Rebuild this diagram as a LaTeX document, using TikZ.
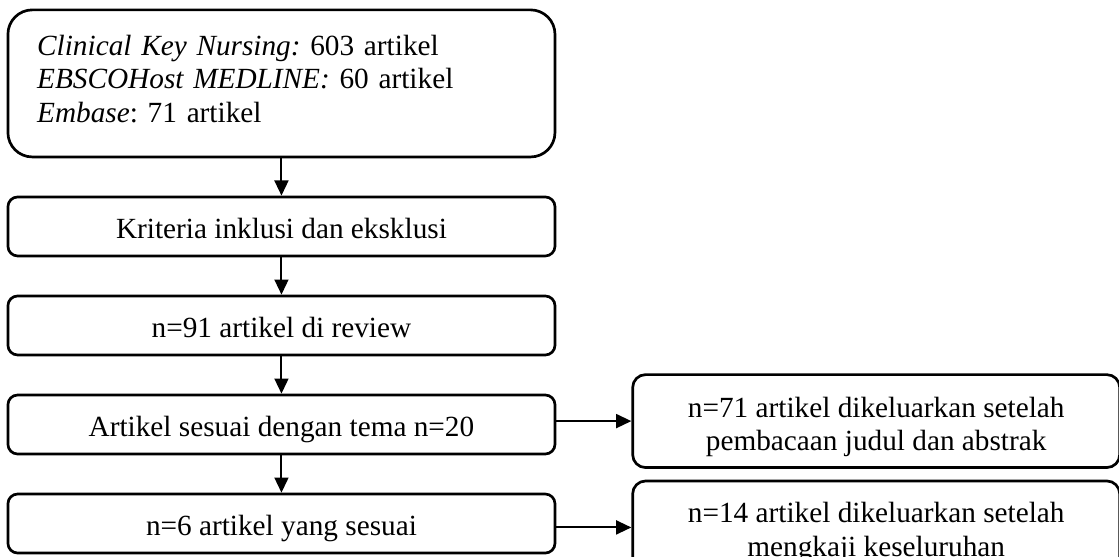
\documentclass[tikz,border=0pt]{standalone}
\usepackage{fontspec}
\setmainfont{Liberation Serif}
\usetikzlibrary{positioning,arrows.meta}
\frenchspacing

\begin{document}
\begin{tikzpicture}[node distance=15.3pt and 30.75pt]

\tikzset{boxline/.style={draw,line width=1.1pt,font=\fontsize{12}{13.7}\selectfont},
flowbox/.style={boxline,rounded corners=4pt,minimum width=224.3pt,minimum height=24.2pt,inner sep=0pt,text height=10pt,text depth=0.2pt},
topbox/.style={boxline,rounded corners=10pt,minimum width=224.3pt,minimum height=60.3pt,text width=200.3pt,align=left,inner xsep=12pt,inner ysep=0pt},
sidebox/.style={boxline,rounded corners=5.3pt,minimum width=199.7pt,minimum height=38.1pt,align=center,inner sep=0pt},
arr/.style={line width=0.8pt,-{Triangle[length=6.2pt,width=5.7pt]}}}

\useasboundingbox (0,0) rectangle (458.8pt,-228pt);
\clip (0,0) rectangle (458.8pt,-228pt);

% Search results
\node[topbox] (src) at (115.4pt,-34.2pt) {\textit{Clinical Key Nursing:} 603 artikel\\
\textit{EBSCOHost MEDLINE:} 60 artikel\\
\textit{Embase}: 71 artikel\rule[-4pt]{0pt}{4pt}};

% Screening steps
\node[flowbox,below=of src] (crit) {Kriteria inklusi dan eksklusi};
\node[flowbox,below=of crit] (rev) {n=91 artikel di review};
\node[flowbox,below=of rev] (tema) {Artikel sesuai dengan tema n=20};
\node[flowbox,below=of tema] (fin) {n=6 artikel yang sesuai};

% Excluded articles
\node[sidebox,right=of tema,yshift=1.4pt] (excl1) {\rule{0pt}{13.2pt}n=71 artikel dikeluarkan setelah\\ pembacaan judul dan abstrak};
\node[sidebox,right=of fin,yshift=-1.6pt] (excl2) {\rule{0pt}{12.6pt}n=14 artikel dikeluarkan setelah\\ mengkaji keseluruhan};

% Arrows
\foreach \a/\b in {src/crit,crit/rev,rev/tema,tema/fin} \draw[arr] (\a) -- (\b);
\draw[arr] (tema.east |- excl1) -- (excl1);
\draw[arr] (fin.east |- excl2) -- (excl2);

\end{tikzpicture}
\end{document}
